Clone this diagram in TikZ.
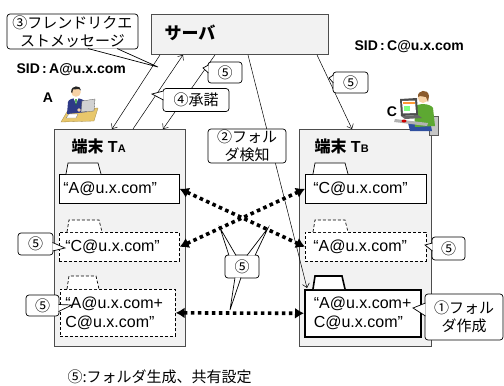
\documentclass[tikz,border=0pt]{standalone}
\usepackage{fontspec}
\setmainfont{Liberation Sans}
\newfontfamily\jp{Noto Sans CJK JP}
\usetikzlibrary{arrows.meta,calc}
\definecolor{FigureGray}{HTML}{F2F2F2}
\definecolor{FigureFrame}{HTML}{4D4D4D}
\definecolor{FigureDesk}{HTML}{E8C76B}
\definecolor{FigureSuit}{HTML}{2E3A87}
\definecolor{FigureSkin}{HTML}{F7D2A6}
\definecolor{FigureHoodie}{HTML}{5DA832}
\definecolor{FigureHair}{HTML}{8B5A2B}
\definecolor{FigureJeans}{HTML}{2F4F9F}

\begin{document}
\begin{tikzpicture}[x=1pt,y=-1pt,
  box/.style={draw=FigureFrame,fill=FigureGray,line width=.9pt,inner sep=0pt,anchor=north west},
  folder/.style={draw,fill=white,line width=.7pt,anchor=north west,inner ysep=0pt,align=left,font=\fontsize{16}{19}\selectfont},
  dashfolder/.style={folder,dash pattern=on 3pt off 2pt},
  bubble/.style={draw,fill=white,rounded corners=3pt,line width=.7pt,align=center,inner sep=0pt,font=\jp\fontsize{15}{18}\selectfont},
  tail/.style={draw,fill=white,line width=.7pt},
  share/.style={line width=3.6pt,dash pattern=on 3.6pt off 3.4pt,arrows={Latex[length=9pt,width=11pt]-Latex[length=9pt,width=11pt]}},
  msg/.style={line width=.5pt,-{Straight Barb[length=4pt,width=7pt]}}]
  \useasboundingbox (0,0) rectangle (504,386);

  \node[box,minimum width=177pt,minimum height=40pt] (srv) at (151,14) {};
  \node[anchor=west,font=\jp\bfseries\fontsize{17}{17}\selectfont] (srvname) at (161,33) {サーバ};
  \node[box,minimum width=131pt,minimum height=217pt] (ta) at (54,129) {};
  \node[box,minimum width=132pt,minimum height=217pt] (tb) at (299,129) {};
  \node[anchor=west,font=\bfseries\fontsize{16}{16}\selectfont] (taname) at (68,146) {{\jp 端末} T{\fontsize{11}{11}\selectfont A}};
  \node[anchor=west,font=\bfseries\fontsize{16}{16}\selectfont] (tbname) at (311,146) {{\jp 端末} T{\fontsize{11}{11}\selectfont B}};

  \coordinate (s1) at ($(srv.south west)+(9,0)$); \coordinate (s2) at ($(srv.south west)+(32,0)$);
  \coordinate (s3) at ($(srv.south west)+(64,0)$); \coordinate (s4) at ($(srv.south west)+(97,0)$);
  \coordinate (s5) at ($(srv.south west)+(166,0)$);
  \coordinate (a1) at ($(ta.north west)+(58,0)$); \coordinate (a2) at ($(ta.north west)+(79,0)$);
  \coordinate (a3) at ($(ta.north west)+(109,0)$); \coordinate (b5) at ($(tb.north west)+(53,0)$);
  \coordinate (b4) at (307,288);
  \draw[msg] (s1) -- (a1); \draw[msg] (a2) -- (s2); \draw[msg] (s3) -- (a3);
  \draw[msg] (s4) -- (b4); \draw[msg] (s5) -- (b5);

  \node[folder,inner xsep=4pt,text width=112pt,minimum height=29pt] (fa1) at (59,174) {“A@u.x.com”};
  \filldraw[fill=white,line width=.7pt] (fa1.north west) ++(7,0) -- ++(2,-11) -- ++(30,0) -- ++(3,11);
  \node[dashfolder,inner xsep=6pt,text width=108pt,minimum height=29pt] (fa2) at (59,232) {“C@u.x.com”};
  \filldraw[fill=white,line width=.7pt,dash pattern=on 3pt off 2pt] (fa2.north west) ++(8,0) -- ++(2,-12) -- ++(30,0) -- ++(3,12);
  \node[dashfolder,inner xsep=5pt,text width=105pt,minimum height=47pt] (fa3) at (60,289) {“A@u.x.com+\\C@u.x.com”};
  \filldraw[fill=white,line width=.7pt,dash pattern=on 3pt off 2pt] (fa3.north west) ++(7,0) -- ++(2,-13) -- ++(27,0) -- ++(3,13);
  \node[folder,inner xsep=8pt,text width=105pt,minimum height=29pt] (fb1) at (305,174) {“C@u.x.com”};
  \filldraw[fill=white,line width=.7pt] (fb1.north west) ++(8,0) -- ++(2,-11) -- ++(30,0) -- ++(3,11);
  \node[dashfolder,inner xsep=8pt,text width=105pt,minimum height=29pt] (fb2) at (305,232) {“A@u.x.com”};
  \filldraw[fill=white,line width=.7pt,dash pattern=on 3pt off 2pt] (fb2.north west) ++(8,0) -- ++(2,-12) -- ++(30,0) -- ++(3,12);
  \node[folder,line width=1.6pt,inner xsep=9pt,text width=98pt,minimum height=47pt] (fb3) at (304,289) {“A@u.x.com+\\C@u.x.com”};
  \filldraw[fill=white,line width=1.6pt] (fb3.north west) ++(9,0) -- ++(2,-13) -- ++(27,0) -- ++(3,13);

  \draw[share] (fa1.east) -- (fb2.west);
  \draw[share] (fa2.east) -- (fb1.west);
  \draw[share] (fa3.east) -- (fb3.west);

  \node[bubble,minimum width=131pt,minimum height=35pt] (req) at (72.5,31.5) {③フレンドリクエ\\ストメッセージ};
  \coordinate (reqtip) at (158,67);
  \filldraw[tail] ($(req.south)+(15.5,-.8)$) -- (reqtip) -- ($(req.south)+(44.5,-.8)$);
  \node[bubble,minimum width=66pt,minimum height=23pt] (ack) at (196,100) {④承諾};
  \coordinate (acktip) at (152,94);
  \filldraw[tail] ($(ack.west)+(.8,-9)$) -- (acktip) -- ($(ack.west)+(.8,0)$);
  \node[bubble,minimum width=34pt,minimum height=21pt] (nfa) at (225,72.5) {⑤};
  \coordinate (nfatip) at (203,68);
  \filldraw[tail] ($(nfa.west)+(.8,-7.5)$) -- (nfatip) -- ($(nfa.west)+(.8,.5)$);
  \node[bubble,minimum width=35pt,minimum height=21pt] (nfb) at (350.5,82.5) {⑤};
  \coordinate (nfbtip) at (329,78);
  \filldraw[tail] ($(nfb.west)+(.8,-7.5)$) -- (nfbtip) -- ($(nfb.west)+(.8,.5)$);
  \node[bubble,minimum width=78pt,minimum height=34pt] (det) at (247,146) {②フォル\\ダ検知};
  \node[bubble,minimum width=35pt,minimum height=22pt] (nfc) at (35.5,244) {⑤};
  \coordinate (nfctip) at (65,248);
  \filldraw[tail] ($(nfc.east)+(-.8,-1.5)$) -- (nfctip) -- ($(nfc.east)+(-.8,7)$);
  \node[bubble,minimum width=33pt,minimum height=21pt] (nfd) at (42.5,305.5) {⑤};
  \coordinate (nfdtip) at (72,305);
  \filldraw[tail] ($(nfd.east)+(-.8,-1)$) -- (nfdtip) -- ($(nfd.east)+(-.8,6)$);
  \node[bubble,minimum width=33pt,minimum height=23pt] (nfe) at (448.5,248.5) {⑤};
  \coordinate (nfetip) at (425,245);
  \filldraw[tail] ($(nfe.west)+(.8,-5.5)$) -- (nfetip) -- ($(nfe.west)+(.8,2.5)$);
  \node[bubble,minimum width=78pt,minimum height=46pt] (made) at (464,317) {①フォル\\ダ作成};
  \coordinate (madetip) at (413,308);
  \filldraw[tail] ($(made.west)+(.8,-14)$) -- (madetip) -- ($(made.west)+(.8,-1)$);
  \node[bubble,minimum width=34pt,minimum height=23pt] (nfm) at (242,266.5) {⑤};
  \coordinate (nfmtipa) at (220,228); \coordinate (nfmtipb) at (268,228); \coordinate (nfmtipc) at (230,310);
  \filldraw[tail] ($(nfm.north)+(-13,.8)$) -- (nfmtipa) -- ($(nfm.north)+(-6,.8)$);
  \filldraw[tail] ($(nfm.north)+(5,.8)$) -- (nfmtipb) -- ($(nfm.north)+(13,.8)$);
  \filldraw[tail] ($(nfm.south)+(-7,-.8)$) -- (nfmtipc) -- ($(nfm.south)+(-1,-.8)$);

  \node[anchor=west,font=\bfseries\fontsize{14}{14}\selectfont] (sida) at (13,70) {SID\,:\,A@u.x.com};
  \node[anchor=west,font=\bfseries\fontsize{14}{14}\selectfont] (sidc) at (351,47) {SID\,:\,C@u.x.com};
  \node[font=\bfseries\fontsize{14}{14}\selectfont] (usera) at (48,98) {A};
  \node[font=\bfseries\fontsize{14}{14}\selectfont] (userc) at (392,112) {C};

  % user A at his desk
  \fill[FigureDesk,draw=FigureDesk!70!black,line width=.3pt] (61,122) -- (68,110) -- (98,108) -- (94,121) -- cycle;
  \fill[white,draw=gray,line width=.3pt] (66,118) -- (69,114) -- (78,114) -- (76,118) -- cycle;
  \fill[FigureSuit] (67,114) -- (68,102) .. controls (69,97) and (83,97) .. (85,102) -- (87,112) -- cycle;
  \fill[white] (73.5,98) -- (78.5,98) -- (76,104) -- cycle;
  \fill[green!55!black] (75.4,99) -- (76.6,99) -- (76.4,105) -- (75.6,105) -- cycle;
  \fill[FigureSkin] (76,92) circle (4.8);
  \fill[black!85] (71.2,92) .. controls (70.5,85) and (81,84.5) .. (81,90.5) -- (79,89) -- (73,89.5) -- (72.2,93) -- cycle;
  \fill[gray!35,draw=gray!70!black,line width=.3pt] (82,101) -- (95,99) -- (94,111) -- (81,112) -- cycle;
  \fill[FigureSkin] (79,110) circle (1.8);

  % user C with the laptop
  \fill[gray!45,draw=gray!70!black,line width=.3pt] (429,116) rectangle (438,135);
  \fill[FigureJeans] (408,123) -- (430,121) -- (432,131) -- (410,131) -- cycle;
  \fill[FigureHoodie] (414,107) .. controls (418,103) and (430,103) .. (433,108) -- (435,126) -- (415,127) -- cycle;
  \fill[gray!60] (395,119) -- (428,123) -- (427,126) -- (394,122) -- cycle;
  \fill[red!80!black] (404,121) ellipse (2.5 and 1.5);
  \fill[black!70] (400,99) -- (417,98) -- (418,115) -- (401,116) -- cycle;
  \fill[white] (402,101) -- (415,100.5) -- (416,113) -- (403,113.5) -- cycle;
  \fill[orange!80] (402.5,102) rectangle (415,104);
  \fill[green!50] (404,106) rectangle (410,111);
  \fill[black!60] (401,116) -- (418,115) -- (422,118) -- (405,119) -- cycle;
  \fill[FigureSkin] (423,98) circle (5);
  \fill[FigureHair] (418,97) .. controls (417,90) and (428,88) .. (429,96) -- (428,102) -- (426,97) -- (420,96) -- cycle;

  \node[anchor=west,font=\jp\fontsize{15}{15}\selectfont] (note) at (64,377) {⑤:フォルダ生成、共有設定};
\end{tikzpicture}
\end{document}
